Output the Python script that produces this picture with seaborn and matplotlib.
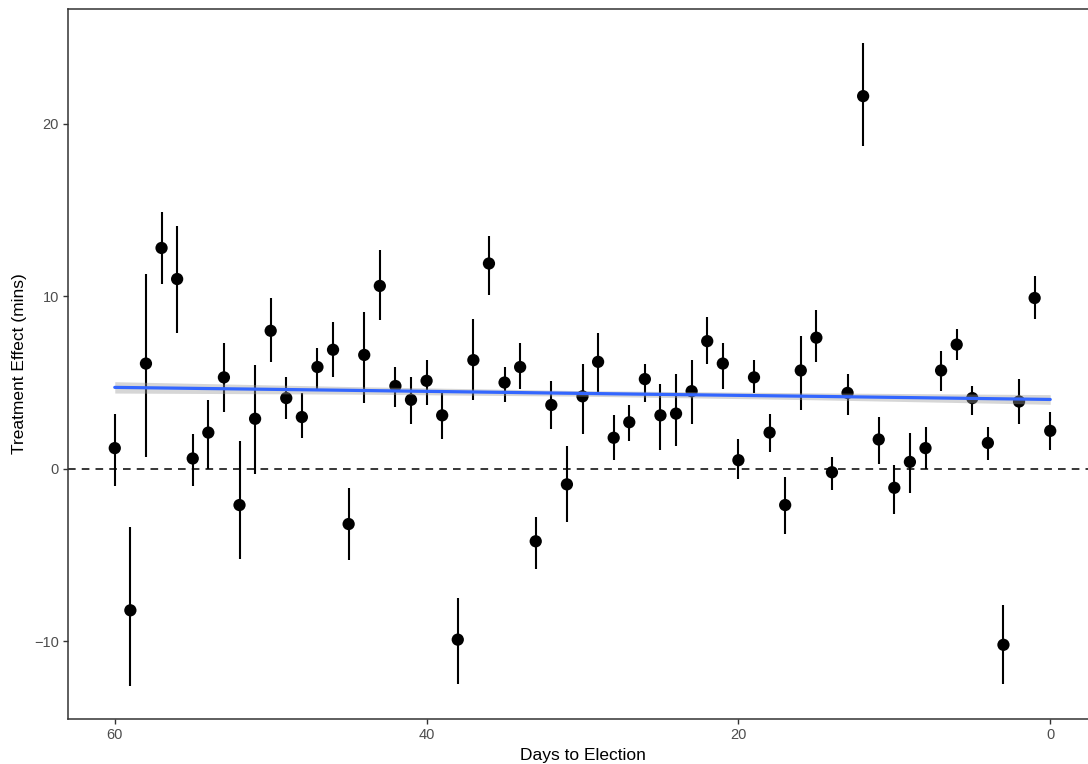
import matplotlib
matplotlib.use("Agg")
import matplotlib.pyplot as plt
import seaborn as sns
import pandas as pd

# Daily treatment-effect estimates with 95% intervals
days = list(range(60, -1, -1))
effect = [1.2, -8.2, 6.1, 12.8, 11.0, 0.6, 2.1, 5.3, -2.1, 2.9,
          8.0, 4.1, 3.0, 5.9, 6.9, -3.2, 6.6, 10.6, 4.8, 4.0,
          5.1, 3.1, -9.9, 6.3, 11.9, 5.0, 5.9, -4.2, 3.7, -0.9,
          4.2, 6.2, 1.8, 2.7, 5.2, 3.1, 3.2, 4.5, 7.4, 6.1,
          0.5, 5.3, 2.1, -2.1, 5.7, 7.6, -0.2, 4.4, 21.6, 1.7,
          -1.1, 0.4, 1.2, 5.7, 7.2, 4.1, 1.5, -10.2, 3.9, 9.9,
          2.2]
upper = [3.2, -3.4, 11.3, 14.9, 14.1, 2.0, 4.0, 7.3, 1.6, 6.0,
         9.9, 5.3, 4.4, 7.0, 8.5, -1.1, 9.1, 12.7, 5.9, 5.3,
         6.3, 4.4, -7.5, 8.7, 13.5, 5.9, 7.3, -2.8, 5.1, 1.3,
         6.1, 7.9, 3.1, 3.7, 6.1, 4.9, 5.5, 6.3, 8.8, 7.3,
         1.7, 6.3, 3.2, -0.5, 7.7, 9.2, 0.7, 5.5, 24.7, 3.0,
         0.2, 2.1, 2.4, 6.8, 8.1, 4.8, 2.4, -7.9, 5.2, 11.2,
         3.3]
lower = [-1.0, -12.6, 0.7, 10.7, 7.9, -1.0, 0.0, 3.3, -5.2, -0.3,
         6.2, 2.9, 1.8, 4.6, 5.3, -5.3, 3.8, 8.6, 3.6, 2.6,
         3.7, 1.7, -12.5, 4.0, 10.1, 3.9, 4.6, -5.8, 2.3, -3.1,
         2.0, 4.4, 0.5, 1.6, 3.9, 1.1, 1.3, 2.6, 6.1, 4.6,
         -0.6, 4.4, 1.0, -3.8, 3.4, 6.2, -1.2, 3.1, 18.7, 0.3,
         -2.6, -1.4, 0.0, 4.5, 6.3, 3.1, 0.5, -12.5, 2.6, 8.7,
         1.1]

# Linear trend with its confidence band
trend_days = [60, 45, 30, 15, 0]
trend_fit = [4.72, 4.55, 4.37, 4.20, 4.02]
trend_half = [0.33, 0.22, 0.16, 0.20, 0.28]

df = pd.DataFrame({"days": days, "effect": effect, "lo": lower, "hi": upper})
trend = pd.DataFrame({"days": trend_days, "fit": trend_fit,
                      "lo": [f - h for f, h in zip(trend_fit, trend_half)],
                      "hi": [f + h for f, h in zip(trend_fit, trend_half)]})

sns.set_theme(style="ticks")
plt.rcParams["font.family"] = ["Liberation Sans", "DejaVu Sans"]

fig = plt.figure(figsize=(10.88, 7.64), dpi=100)
ax = fig.add_axes([68 / 1088, 45 / 764, (1097 - 68) / 1088, (719 - 9) / 764])

ax.axhline(0, color="black", lw=1.1, ls=(0, (5, 4)), zorder=1)
ax.vlines(df["days"], df["lo"], df["hi"], color="black", lw=1.5, zorder=2)
sns.scatterplot(data=df, x="days", y="effect", ax=ax, color="black",
                s=78, edgecolor="none", zorder=3)

ax.fill_between(trend["days"], trend["lo"], trend["hi"],
                color="#999999", alpha=0.4, lw=0, zorder=4)
sns.lineplot(data=trend, x="days", y="fit", ax=ax, color="#3366FF",
             lw=2.3, zorder=5)

ax.set_xlim(63, -3)
ax.set_ylim(-14.5, 26.65)
ax.set_xticks([60, 40, 20, 0])
ax.set_yticks([-10, 0, 10, 20])
ax.set_yticklabels(["\u221210", "0", "10", "20"])
ax.set_xlabel("Days to Election", fontsize=12.5, color="black", labelpad=4)
ax.set_ylabel("Treatment Effect (mins)", fontsize=12.5, color="black", labelpad=5)
ax.tick_params(axis="both", labelsize=10.5, labelcolor="#4d4d4d",
               color="#333333", length=3.5, width=1, pad=3)

for side in ["left", "bottom", "top"]:
    ax.spines[side].set_color("#333333")
    ax.spines[side].set_linewidth(1.1)
ax.spines["right"].set_visible(False)

fig.savefig("out.png", dpi=100)
